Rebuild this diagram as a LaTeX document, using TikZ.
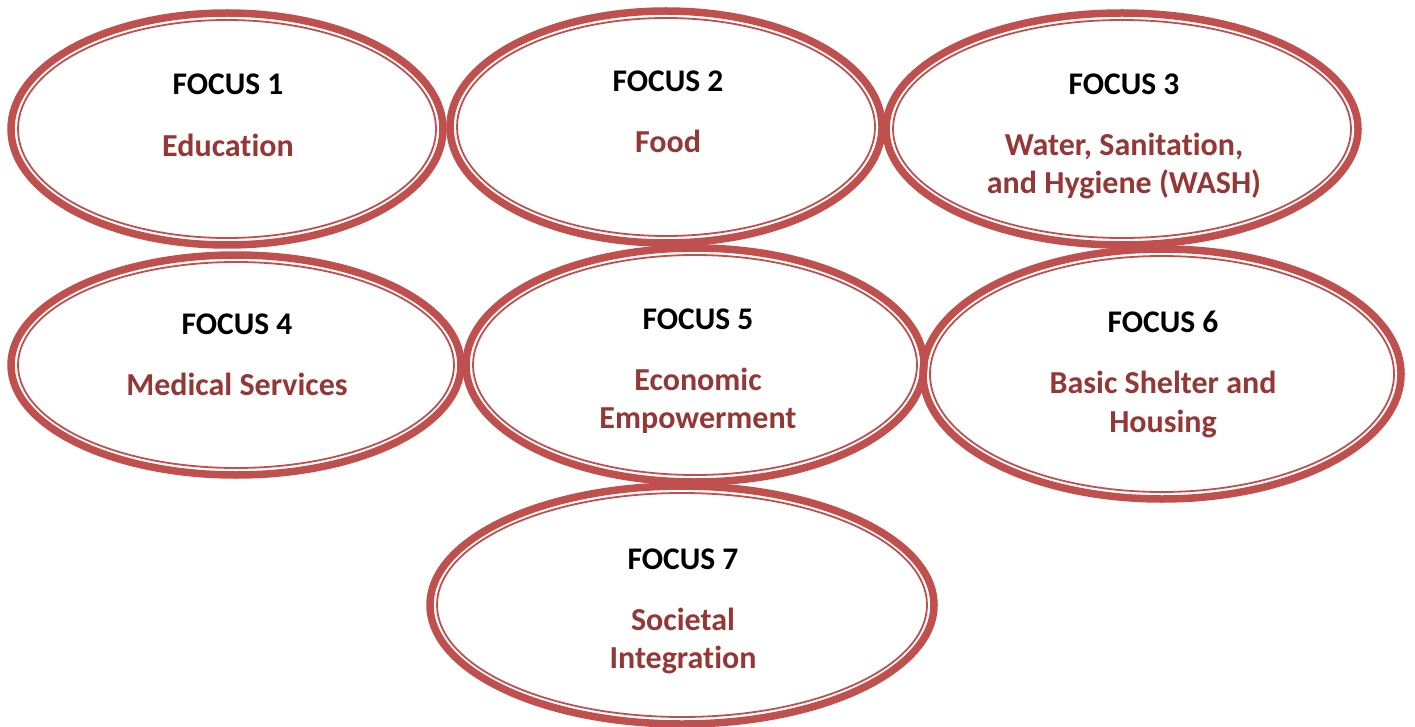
\documentclass[tikz,border=0pt]{standalone}
\usepackage{fontspec}
\setmainfont{Carlito}[Ligatures={NoCommon}]
\definecolor{ringred}{HTML}{C0504D}
\definecolor{textred}{HTML}{953735}
\begin{document}
\begin{tikzpicture}[x=1pt,y=-1pt,
  outerring/.style={draw=ringred,line width=7.5pt},
  innerring/.style={draw=ringred,line width=1.8pt},
  title/.style={anchor=base,inner sep=0pt,font=\fontsize{31.5}{38}\selectfont\bfseries,text=black},
  label/.style={anchor=base,inner sep=0pt,font=\fontsize{32}{38}\selectfont\bfseries,text=textred}]
\useasboundingbox (0,0) rectangle (1415,727);
% centres
\coordinate (c1) at (227,129);
\coordinate (c2) at (666,127);
\coordinate (c3) at (1122,129);
\coordinate (c4) at (236,365);
\coordinate (c5) at (695,365);
\coordinate (c6) at (1162,374);
\coordinate (c7) at (682,605);
% rings
\draw[outerring] (c1) ellipse [x radius=216,y radius=116];
\draw[innerring] (c1) ellipse [x radius=209,y radius=109];
\draw[outerring] (c2) ellipse [x radius=216,y radius=116];
\draw[innerring] (c2) ellipse [x radius=209,y radius=109];
\draw[outerring] (c3) ellipse [x radius=236,y radius=116];
\draw[innerring] (c3) ellipse [x radius=229,y radius=109];
\draw[outerring] (c4) ellipse [x radius=225,y radius=110];
\draw[innerring] (c4) ellipse [x radius=218,y radius=103];
\draw[outerring] (c5) ellipse [x radius=229,y radius=117];
\draw[innerring] (c5) ellipse [x radius=222,y radius=110];
\draw[outerring] (c6) ellipse [x radius=239,y radius=125];
\draw[innerring] (c6) ellipse [x radius=232,y radius=118];
\draw[outerring] (c7) ellipse [x radius=252,y radius=119];
\draw[innerring] (c7) ellipse [x radius=245,y radius=112];
% texts
\node[title] (t1) at (228,95) {FOCUS 1};
\node[label] (l1) at (228,157) {Education};
\node[title] (t2) at (668,92) {FOCUS 2};
\node[label] (l2) at (668,153) {Food};
\node[title] (t3) at (1124,95) {FOCUS 3};
\node[label] (l3a) at (1124,156) {Water, Sanitation,};
\node[label] (l3b) at (1124,194) {and Hygiene (WASH)};
\node[title] (t4) at (237,334) {FOCUS 4};
\node[label] (l4) at (237,395) {Medical Services};
\node[title] (t5) at (698,329) {FOCUS 5};
\node[label] (l5a) at (698,390) {Economic};
\node[label] (l5b) at (698,428) {Empowerment};
\node[title] (t6) at (1163,332) {FOCUS 6};
\node[label] (l6a) at (1163,393) {Basic Shelter and};
\node[label] (l6b) at (1163,432) {Housing};
\node[title] (t7) at (683,569) {FOCUS 7};
\node[label] (l7a) at (683,630) {Societal};
\node[label] (l7b) at (683,668) {Integration};
\end{tikzpicture}
\end{document}
